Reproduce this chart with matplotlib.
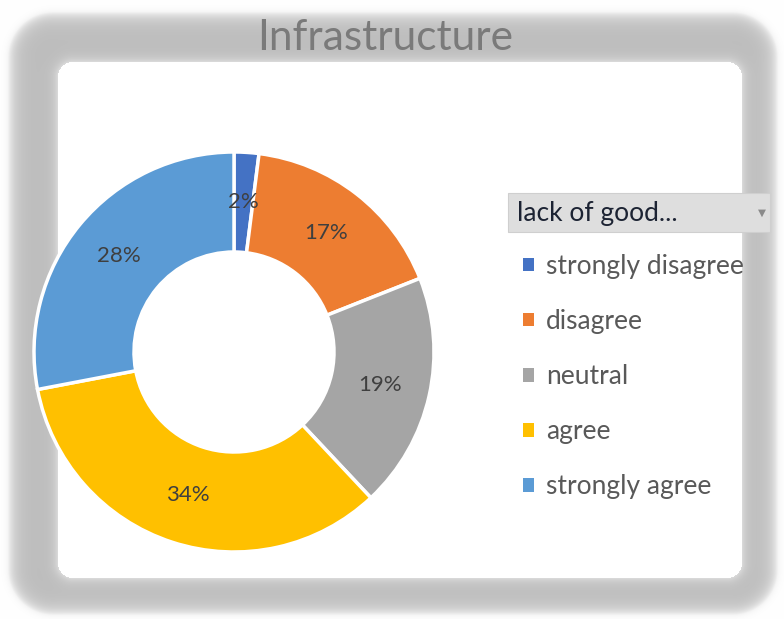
import numpy as np
import matplotlib
matplotlib.use("Agg")
import matplotlib.pyplot as plt
from matplotlib.patches import Patch, Rectangle

plt.rcParams['font.family'] = ['Lato', 'DejaVu Sans']

# survey answers for "lack of good..." (percent)
categories = ['strongly disagree', 'disagree', 'neutral', 'agree', 'strongly agree']
shares = [2, 17, 19, 34, 28]
colors = ['#4472C4', '#ED7D31', '#A5A5A5', '#FFC000', '#5B9BD5']
title = 'Infrastructure'
filter_name = 'lack of good...'

W, H = 784, 619
fig = plt.figure(figsize=(W / 100, H / 100), dpi=100)


def rounded_box_dist(px, py, x0, y0, x1, y1, r):
    # signed distance to a rounded rectangle (negative inside)
    cx, cy = (x0 + x1) / 2, (y0 + y1) / 2
    hx, hy = (x1 - x0) / 2 - r, (y1 - y0) / 2 - r
    qx = np.abs(px - cx) - hx
    qy = np.abs(py - cy) - hy
    outside = np.hypot(np.maximum(qx, 0), np.maximum(qy, 0))
    inside = np.minimum(np.maximum(qx, qy), 0)
    return outside + inside - r


# grey rounded frame around the white chart area
yy, xx = np.mgrid[0:H, 0:W] + 0.5
d_out = rounded_box_dist(xx, yy, 8, 12, 778, 615, 45)
d_in = rounded_box_dist(xx, yy, 58, 62, 742, 578, 15)
t = np.maximum(-d_out, 0)
s = np.maximum(d_in, 0)
shade = 0.74 + 0.22 * np.exp(-t / 7) + 0.12 * np.exp(-s / 5)
shade = np.where(d_out > 0, 1 - 0.04 * np.exp(-d_out / 3), shade)
shade = np.where(d_in < 0, 1.0, shade)
shade = np.clip(shade, 0, 1)

bg = fig.add_axes([0, 0, 1, 1])
bg.imshow(np.dstack([shade] * 3), extent=(0, W, H, 0), interpolation='bilinear')
bg.set_xlim(0, W)
bg.set_ylim(H, 0)
bg.axis('off')

# doughnut
cx, cy, rad = 234, 352, 200
ax = fig.add_axes([(cx - rad) / W, (H - cy - rad) / H, 2 * rad / W, 2 * rad / H])
ax.set_facecolor('none')
wedges, texts, autotexts = ax.pie(
    shares, colors=colors, startangle=90, counterclock=False, radius=1,
    pctdistance=0.75, autopct='%1.0f%%',
    wedgeprops=dict(width=0.5, edgecolor='white', linewidth=2.5),
    textprops=dict(color='#3f3f3f', fontsize=16))
ax.set_xlim(-1, 1)
ax.set_ylim(-1, 1)
ax.set_aspect('equal')

# title
fig.text(385 / W, 1 - 38 / H, title, ha='center', va='center',
         fontsize=30.5, color='#7a7a7a')

# filter header with dropdown arrow
bg.add_patch(Rectangle((508, 193), 262, 39, facecolor='#dedede',
                       edgecolor='#cfcfcf', linewidth=0.8, zorder=3))
bg.text(517, 213, filter_name, ha='left', va='center', fontsize=19,
        color='#1c2333', zorder=4)
bg.text(762, 213, '\u25bc', ha='center', va='center', fontsize=7.5,
        color='#8a8a8a', family='DejaVu Sans', zorder=4)

# legend
handles = [Patch(facecolor=c, edgecolor='none') for c in colors]
fig.legend(handles, categories, loc='upper left',
           bbox_to_anchor=(523 / W, 1 - 254 / H), frameon=False,
           fontsize=19, labelcolor='#595959', handlelength=0.42,
           handleheight=0.42, handletextpad=0.45, labelspacing=1.14,
           borderpad=0, borderaxespad=0)

fig.savefig('out.png', dpi=100)
